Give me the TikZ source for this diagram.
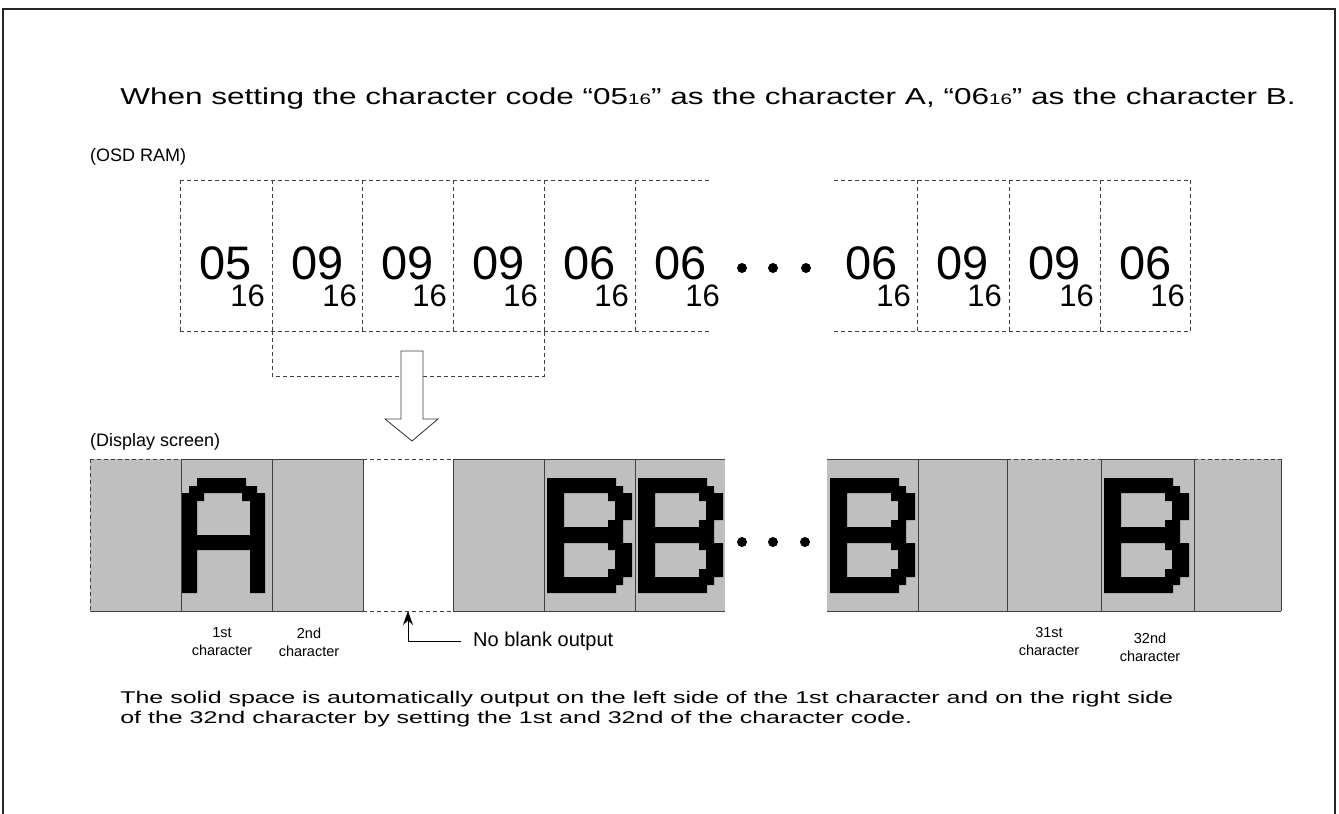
\documentclass[tikz,border=0pt]{standalone}
\usepackage{fontspec}
\setmainfont{Liberation Sans}
\usetikzlibrary{arrows.meta}

\tikzset{
  ramline/.style={draw=black!75, line width=0.9pt, dash pattern=on 4pt off 3pt},
  scrline/.style={draw=black!75, line width=0.9pt},
  scrcell/.style={fill=black!25},
  glyph/.style={fill=black, even odd rule},
  bigcode/.style={font=\fontsize{47}{47}\selectfont, inner sep=0pt, anchor=base west},
  subcode/.style={font=\fontsize{31}{31}\selectfont, inner sep=0pt, anchor=base east},
  charlbl/.style={font=\fontsize{14.5}{18}\selectfont, align=center, inner sep=0pt},
  headlbl/.style={font=\fontsize{18}{18}\selectfont, inner sep=0pt, anchor=base west},
}

% pixel letters of the display screen (cell left edge as argument)
\newcommand{\pixA}[1]{%
  \fill[glyph, shift={(#1,459)}]
    (1,34) -- (8,34) -- (8,27) -- (16,27) -- (16,19) -- (65,19) -- (65,27) -- (76,27)
    -- (76,34) -- (84,34) -- (84,134) -- (69,134) -- (69,91) -- (16,91) -- (16,134)
    -- (1,134) -- cycle
    (16,42) -- (23,42) -- (23,34) -- (61,34) -- (61,42) -- (69,42) -- (69,76)
    -- (16,76) -- cycle;}
\newcommand{\pixB}[1]{%
  \fill[glyph, shift={(#1,459)}]
    (3,19) -- (72,19) -- (72,27) -- (79,27) -- (79,34) -- (88,34) -- (88,61) -- (79,61)
    -- (79,84) -- (88,84) -- (88,118) -- (79,118) -- (79,126) -- (72,126) -- (72,134)
    -- (3,134) -- cycle
    (20,34) -- (64,34) -- (64,42) -- (71,42) -- (71,61) -- (64,61) -- (64,68)
    -- (20,68) -- cycle
    (20,84) -- (64,84) -- (64,91) -- (71,91) -- (71,110) -- (64,110) -- (64,118)
    -- (20,118) -- cycle;}

\begin{document}
\begin{tikzpicture}[x=1pt, y=-1pt]
    \useasboundingbox (0,0) rectangle (1339,814);

    % 1. Khung ngoai
    \draw[line width=2pt, black!85] (3,814) -- (3,9) -- (1335,9) -- (1335,814);

    % 2. Cac dong chu
    \node[anchor=base west, inner sep=0pt, xscale=1.37, transform shape,
          font=\fontsize{23}{23}\selectfont] (title) at (120,104)
        {When setting the character code “05{\fontsize{15}{15}\selectfont 16}” as the character A,
         “06{\fontsize{15}{15}\selectfont 16}” as the character B.};
    \node[headlbl] (osdlabel) at (90,161) {(OSD RAM)};
    \node[headlbl] (scrlabel) at (90,446) {(Display screen)};

    % 3. O nho OSD RAM (net dut)
    \foreach \cx in {180,272,362,453,544,635}
        \draw[ramline] (\cx,180) -- (\cx,331);
    \foreach \cx in {917,1009,1100,1190}
        \draw[ramline] (\cx,180) -- (\cx,331);
    \draw[ramline] (180,180) -- (711,180);
    \draw[ramline] (180,331) -- (711,331);
    \draw[ramline] (834,180) -- (1190,180);
    \draw[ramline] (834,331) -- (1190,331);

    % 4. Ma ky tu trong tung o
    \foreach \cx/\code [count=\i] in {180/05,272/09,362/09,453/09,544/06,635/06,
                                      826/06,917/09,1009/09,1100/06} {
        \node[bigcode] (code\i) at (\cx+19,279) {\code};
        \node[subcode] (base\i) at (\cx+85,306) {16};
    }
    \foreach \dx [count=\i] in {742,773,806}
        \fill (\dx,268) circle (5) coordinate (ramdot\i);

    % 5. Ngoac duoi va mui ten lon
    \draw[ramline] (272,331) -- (272,376) -- (544,376) -- (544,331);
    \draw[scrline, fill=white] (401,351) -- (401,419) -- (385,419) -- (412,441)
        -- (438,419) -- (423,419) -- (423,351) -- cycle;

    % 6. Man hinh hien thi
    \foreach \ca/\cb in {90/181,181/272,272/363,453/544,544/635,635/725,
                         827/918,918/1007,1007/1101,1101/1194,1194/1281}
        \fill[scrcell] (\ca,459) rectangle (\cb,611);
    \draw[ramline] (90,459) -- (181,459);
    \draw[ramline] (90,459) -- (90,611);
    \draw[scrline] (181,459) -- (363,459);
    \draw[scrline] (90,611) -- (363,611);
    \draw[ramline] (363,459) -- (453,459);
    \draw[ramline] (363,611) -- (453,611);
    \draw[scrline] (453,459) -- (725,459);
    \draw[scrline] (453,611) -- (725,611);
    \draw[scrline] (827,459) -- (1007,459);
    \draw[ramline] (1007,459) -- (1101,459);
    \draw[scrline] (1101,459) -- (1194,459);
    \draw[ramline] (1194,459) -- (1281,459);
    \draw[scrline] (827,611) -- (1281,611);
    \foreach \cx in {181,272,363,453,544,635,918,1007,1101,1194,1281}
        \draw[scrline] (\cx,459) -- (\cx,611);

    % 7. Chu A, B dang diem anh
    \pixA{181}
    \pixB{544}
    \pixB{635}
    \pixB{827}
    \pixB{1101}
    \foreach \dx [count=\i] in {742,773,805}
        \fill (\dx,542) circle (5) coordinate (scrdot\i);

    % 8. Nhan duoi tung ky tu
    \node[charlbl] (lblfirst) at (222,642) {1st\\character};
    \node[charlbl] (lblsecond) at (309,642) {2nd\\character};
    \node[charlbl] (lblthirtyfirst) at (1049,642) {31st\\character};
    \node[charlbl] (lblthirtysecond) at (1150,647) {32nd\\character};

    % 9. Chu thich o trong
    \coordinate (blankbot) at (408,611);
    \node[anchor=west, inner ysep=0pt, inner xsep=12pt, font=\fontsize{20}{20}\selectfont]
        (noblank) at (461,641) {No blank output};
    \draw[line width=1pt, -{Stealth[length=14pt, width=10pt]}] (noblank.west) -| (blankbot);

    % 10. Ghi chu cuoi
    \node[anchor=north west, inner sep=0pt, align=left, xscale=1.47, transform shape,
          font=\fontsize{17}{19.5}\selectfont] (note) at (120,691)
        {The solid space is automatically output on the left side of the 1st character and on the right side\\
         of the 32nd character by setting the 1st and 32nd of the character code.};
\end{tikzpicture}
\end{document}
